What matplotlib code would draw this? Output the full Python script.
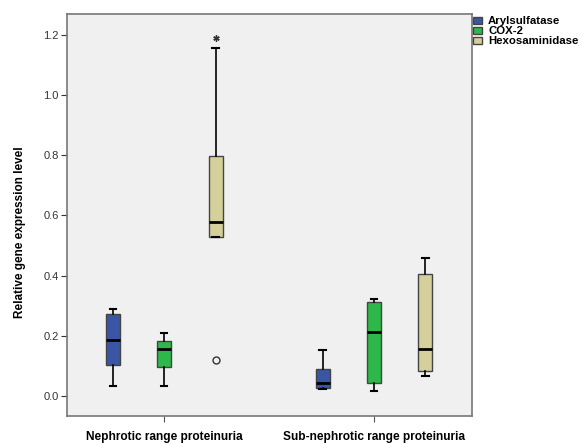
import matplotlib.pyplot as plt
from matplotlib.patches import Patch

plt.rcParams['font.family'] = ['Liberation Sans', 'DejaVu Sans']

groups = ['Nephrotic range proteinuria', 'Sub-nephrotic range proteinuria']
genes = ['Arylsulfatase', 'COX-2', 'Hexosaminidase']
colors = ['#3a55a6', '#2db84a', '#d5d09b']

# (whislo, q1, med, q3, whishi) per group, per gene
arylsulfatase = [(0.035, 0.105, 0.185, 0.272, 0.288), (0.025, 0.028, 0.044, 0.089, 0.153)]
cox2 = [(0.033, 0.096, 0.158, 0.184, 0.209), (0.018, 0.044, 0.214, 0.311, 0.321)]
hexosaminidase = [(0.529, 0.529, 0.579, 0.797, 1.156), (0.066, 0.084, 0.155, 0.404, 0.459)]
outliers_circle = {(0, 2): [0.120]}
outliers_star = {(0, 2): [1.188]}

series = [arylsulfatase, cox2, hexosaminidase]
offsets = [-0.245, 0.0, 0.245]
box_w = 0.067

fig = plt.figure(figsize=(5.84, 4.43), dpi=100)
ax = fig.add_axes([67 / 584, 27 / 443, 405 / 584, 402 / 443])
ax.set_facecolor('#f0f0f0')

for gi, vals in enumerate(series):
    stats = []
    pos = []
    for ci, (lo, q1, med, q3, hi) in enumerate(vals):
        stats.append(dict(whislo=lo, q1=q1, med=med, q3=q3, whishi=hi, fliers=[]))
        pos.append(ci + offsets[gi])
    ax.bxp(stats, positions=pos, widths=box_w, patch_artist=True, showfliers=False,
           boxprops=dict(facecolor=colors[gi], edgecolor='#444444', linewidth=1.0),
           medianprops=dict(color='black', linewidth=2.0),
           whiskerprops=dict(color='black', linewidth=1.2),
           capprops=dict(color='black', linewidth=1.5),
           capwidths=box_w * 0.45)
    for ci in range(len(vals)):
        x = ci + offsets[gi]
        for v in outliers_circle.get((ci, gi), []):
            ax.plot([x], [v], 'o', mfc='none', mec='#333333', ms=5, mew=1.0)
        for v in outliers_star.get((ci, gi), []):
            ax.plot([x], [v], marker=(6, 2, 0), color='#333333', ms=4.5, mew=1.0,
                    linestyle='none')

ax.set_xlim(-0.463, 1.467)
ax.set_ylim(-0.066, 1.269)
ax.set_yticks([0.0, 0.2, 0.4, 0.6, 0.8, 1.0, 1.2])
ax.set_yticklabels(['0.0', '0.2', '0.4', '0.6', '0.8', '1.0', '1.2'])
ax.set_xticks([0, 1])
ax.set_xticklabels(groups, fontsize=8.6, fontweight='bold')
ax.tick_params(axis='y', labelsize=8, length=4, pad=2, colors='#333333', labelcolor='#333333')
ax.tick_params(axis='x', length=4, pad=7, colors='#555555', labelcolor='black')
for s in ax.spines.values():
    s.set_color('#777777')
    s.set_linewidth(1.2)

ax.set_ylabel('Relative gene expression level', fontsize=8.5, fontweight='bold')
ax.yaxis.set_label_coords(-0.101, 0.458)

handles = [Patch(facecolor=c, edgecolor='#444444', label=g) for c, g in zip(colors, genes)]
fig.legend(handles=handles, loc='upper left', bbox_to_anchor=(471 / 584, 1 - 14 / 443),
           frameon=False, prop=dict(size=8.2, weight='bold'), handlelength=0.75,
           handleheight=0.6, handletextpad=0.55, labelspacing=0.0, borderaxespad=0,
           borderpad=0.2)

fig.savefig('out.png', dpi=100)
